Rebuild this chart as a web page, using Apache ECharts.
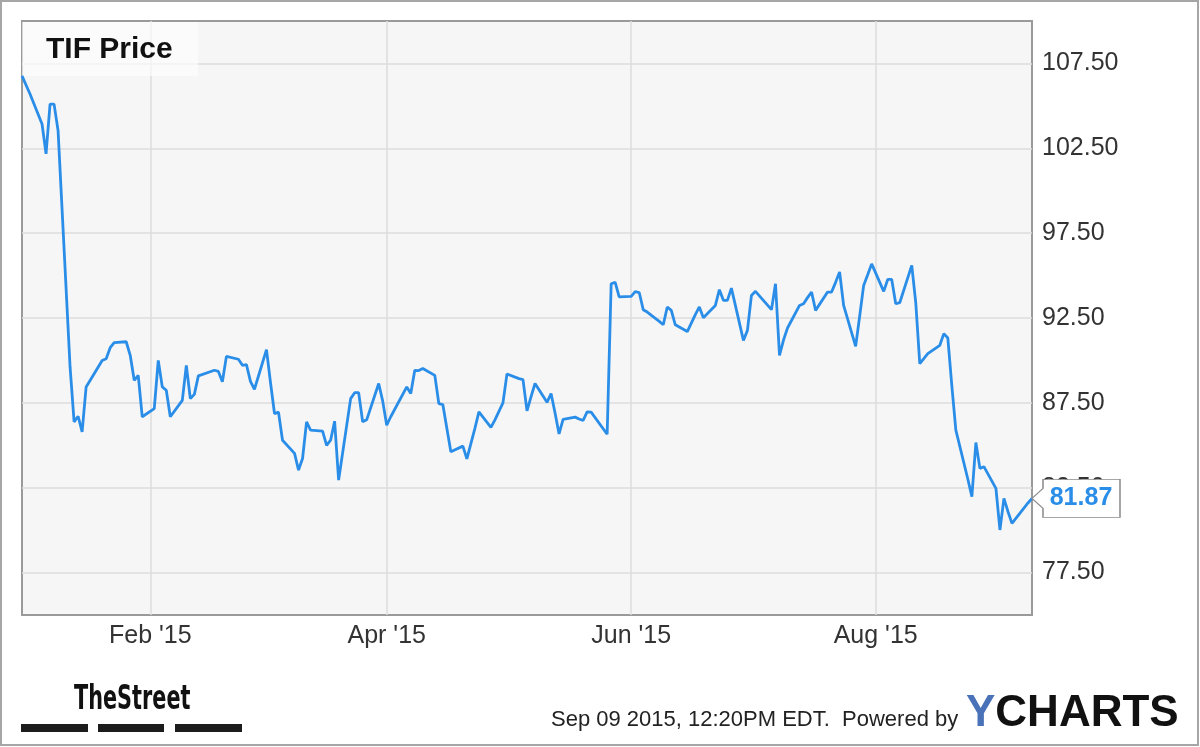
<!DOCTYPE html>
<html>
<head>
<meta charset="utf-8">
<script src="https://cdn.jsdelivr.net/npm/echarts@6/dist/echarts.min.js"></script>
<style>
html,body{margin:0;padding:0;background:#fff;}
#chart{width:1200px;height:747px;}
</style>
</head>
<body>
<div id="chart"></div>
<script>
// ---- data ----
const title = 'TIF Price';
const axisStart = '2014-12-31';
const axisEnd = '2015-09-09';
const labelMonths = ['02', '04', '06', '08'];
const monthNames = ['Jan','Feb','Mar','Apr','May','Jun','Jul','Aug','Sep','Oct','Nov','Dec'];

const dates = [
'2014-12-31','2015-01-02','2015-01-05','2015-01-06','2015-01-07','2015-01-08','2015-01-09',
'2015-01-12','2015-01-13','2015-01-14','2015-01-15','2015-01-16','2015-01-20','2015-01-21',
'2015-01-22','2015-01-23','2015-01-26','2015-01-27','2015-01-28','2015-01-29','2015-01-30',
'2015-02-02','2015-02-03','2015-02-04','2015-02-05','2015-02-06','2015-02-09','2015-02-10',
'2015-02-11','2015-02-12','2015-02-13','2015-02-17','2015-02-18','2015-02-19','2015-02-20',
'2015-02-23','2015-02-24','2015-02-25','2015-02-26','2015-02-27','2015-03-02','2015-03-03',
'2015-03-04','2015-03-05','2015-03-06','2015-03-09','2015-03-10','2015-03-11','2015-03-12',
'2015-03-13','2015-03-16','2015-03-17','2015-03-18','2015-03-19','2015-03-20','2015-03-23',
'2015-03-24','2015-03-25','2015-03-26','2015-03-27','2015-03-30','2015-03-31','2015-04-01',
'2015-04-02','2015-04-06','2015-04-07','2015-04-08','2015-04-09','2015-04-10','2015-04-13',
'2015-04-14','2015-04-15','2015-04-16','2015-04-17','2015-04-20','2015-04-21','2015-04-22',
'2015-04-23','2015-04-24','2015-04-27','2015-04-28','2015-04-29','2015-04-30','2015-05-01',
'2015-05-04','2015-05-05','2015-05-06','2015-05-07','2015-05-08','2015-05-11','2015-05-12',
'2015-05-13','2015-05-14','2015-05-15','2015-05-18','2015-05-19','2015-05-20','2015-05-21',
'2015-05-22','2015-05-26','2015-05-27','2015-05-28','2015-05-29','2015-06-01','2015-06-02',
'2015-06-03','2015-06-04','2015-06-05','2015-06-08','2015-06-09','2015-06-10','2015-06-11',
'2015-06-12','2015-06-15','2015-06-16','2015-06-17','2015-06-18','2015-06-19','2015-06-22',
'2015-06-23','2015-06-24','2015-06-25','2015-06-26','2015-06-29','2015-06-30','2015-07-01',
'2015-07-02','2015-07-06','2015-07-07','2015-07-08','2015-07-09','2015-07-10','2015-07-13',
'2015-07-14','2015-07-15','2015-07-16','2015-07-17','2015-07-20','2015-07-21','2015-07-22',
'2015-07-23','2015-07-24','2015-07-27','2015-07-28','2015-07-29','2015-07-30','2015-07-31',
'2015-08-03','2015-08-04','2015-08-05','2015-08-06','2015-08-07','2015-08-10','2015-08-11',
'2015-08-12','2015-08-13','2015-08-14','2015-08-17','2015-08-18','2015-08-19','2015-08-20',
'2015-08-21','2015-08-24','2015-08-25','2015-08-26','2015-08-27','2015-08-28','2015-08-31',
'2015-09-01','2015-09-02','2015-09-03','2015-09-04','2015-09-08','2015-09-09'
];

const prices = [
106.77,105.7,103.93,102.17,105.1,105.1,103.54,
89.6,86.38,86.71,85.79,88.44,90.0,90.1,
90.75,91.05,91.1,90.3,88.83,89.12,86.68,
87.16,90.0,88.44,88.24,86.68,87.65,89.71,
87.75,88.0,89.09,89.42,89.35,88.74,90.24,
90.07,89.71,89.75,88.77,88.3,90.64,88.7,
86.87,86.95,85.3,84.52,83.54,84.22,86.38,
85.89,85.83,85.0,85.3,86.42,82.95,87.75,
88.1,88.1,86.38,86.5,88.64,87.6,86.18,
86.68,88.44,88.05,89.42,89.4,89.52,89.12,
87.46,87.4,86.0,84.62,84.95,84.2,85.1,
86.0,86.97,86.05,86.5,87.0,87.5,89.2,
88.93,88.87,87.03,87.85,88.64,87.53,88.05,
86.9,85.67,86.53,86.66,86.55,86.46,86.97,
86.95,85.65,94.52,94.6,93.74,93.77,94.05,
94.0,92.99,92.85,92.3,92.1,93.15,92.95,
92.1,91.7,92.2,92.7,93.15,92.52,93.24,
94.17,93.54,93.54,94.26,91.18,91.77,93.83,
94.07,92.99,94.52,90.3,91.2,91.91,93.24,
93.34,93.7,94.03,92.95,94.03,94.03,94.6,
95.21,93.24,90.83,92.6,94.42,95.05,95.69,
94.07,94.77,94.77,93.34,93.4,95.6,93.4,
89.81,90.1,90.4,90.89,91.58,91.32,88.5,
85.89,83.0,81.97,85.16,83.64,83.74,82.46,
80.01,81.87,81.1,80.4,81.6,81.87
];

const yMin = 75, yMax = 110, yStep = 2.5;
const footerText = 'Sep 09 2015, 12:20PM EDT.  Powered by';

// ---- build calendar categories for the x axis ----
function buildDays(a, b) {
  const out = [];
  let t = Date.UTC(+a.slice(0,4), +a.slice(5,7)-1, +a.slice(8,10));
  const end = Date.UTC(+b.slice(0,4), +b.slice(5,7)-1, +b.slice(8,10));
  while (t <= end) {
    out.push(new Date(t).toISOString().slice(0,10));
    t += 86400000;
  }
  return out;
}
const days = buildDays(axisStart, axisEnd);
const isMark = (idx, val) => val.slice(8,10) === '01' && labelMonths.indexOf(val.slice(5,7)) >= 0;
const isLabelTick = v => Math.abs(((v - 77.5) / 5) - Math.round((v - 77.5) / 5)) < 1e-6;

const lastDate = dates[dates.length - 1];
const lastPrice = prices[prices.length - 1];
const lineColor = '#2a8ee8';

const chart = echarts.init(document.getElementById('chart'), null, {renderer: 'canvas'});
chart.setOption({
  animation: false,
  backgroundColor: '#ffffff',
  grid: {
    left: 22, right: 168, top: 21, bottom: 132,
    show: true, backgroundColor: '#f6f6f6', borderColor: '#9a9a9a', borderWidth: 2
  },
  xAxis: {
    type: 'category',
    data: days,
    boundaryGap: false,
    axisLine: {show: false},
    axisTick: {show: false},
    axisLabel: {
      interval: isMark,
      margin: 9,
      color: '#333',
      fontSize: 25,
      fontFamily: 'Liberation Sans, Arial, sans-serif',
      formatter: v => monthNames[+v.slice(5,7) - 1] + " '" + v.slice(2,4)
    },
    splitLine: {show: true, interval: isMark, lineStyle: {color: '#dcdcdc', width: 1.5}}
  },
  yAxis: {
    type: 'value',
    position: 'right',
    min: yMin, max: yMax, interval: yStep,
    axisLine: {show: false},
    axisTick: {show: false},
    axisLabel: {
      margin: 10,
      color: '#333',
      fontSize: 25,
      fontFamily: 'Liberation Sans, Arial, sans-serif',
      formatter: v => isLabelTick(v) ? v.toFixed(2) : ''
    },
    splitLine: {show: true, lineStyle: {color: ['rgba(0,0,0,0)', '#dcdcdc'], width: 1.5}}
  },
  series: [{
    type: 'line',
    data: dates.map((d, i) => [d, prices[i]]),
    showSymbol: false,
    symbol: 'none',
    lineStyle: {color: lineColor, width: 2.8},
    z: 3,
    markPoint: {
      symbol: 'path://M0 19 L11 9 L11 0 L88 0 L88 38 L11 38 L11 29 Z',
      symbolSize: [88, 38],
      symbolOffset: [44, 0],
      symbolKeepAspect: false,
      itemStyle: {color: '#ffffff', borderColor: '#8a8a8a', borderWidth: 1},
      label: {
        show: true, position: 'inside', offset: [5, 0],
        color: lineColor, fontSize: 25, fontWeight: 'bold',
        fontFamily: 'Liberation Sans, Arial, sans-serif',
        formatter: p => Number(p.value).toFixed(2)
      },
      data: [{coord: [lastDate, lastPrice], value: lastPrice}]
    }
  }],
  graphic: [
    {type: 'rect', z: 1, shape: {x: 22, y: 22, width: 176, height: 54},
     style: {fill: 'rgba(255,255,255,0.6)'}},
    {type: 'text', z: 5, x: 46, y: 50,
     style: {text: title, fill: '#111', font: 'bold 30px "Liberation Sans", Arial, sans-serif',
             textAlign: 'left', textVerticalAlign: 'middle'}},
    {type: 'rect', z: 10, shape: {x: 1, y: 1, width: 1197, height: 744},
     style: {fill: 'none', stroke: '#a6a6a6', lineWidth: 2}},
    {type: 'text', z: 5, x: 74, y: 700, scaleX: 0.68,
     style: {text: 'TheStreet', fill: '#111', font: 'bold 34px "DejaVu Sans Condensed", "Liberation Sans", sans-serif',
             textAlign: 'left', textVerticalAlign: 'middle'}},
    {type: 'rect', z: 5, shape: {x: 21, y: 724, width: 67, height: 8}, style: {fill: '#1c1c1c'}},
    {type: 'rect', z: 5, shape: {x: 98, y: 724, width: 66, height: 8}, style: {fill: '#1c1c1c'}},
    {type: 'rect', z: 5, shape: {x: 175, y: 724, width: 67, height: 8}, style: {fill: '#1c1c1c'}},
    {type: 'text', z: 5, x: 551, y: 720,
     style: {text: footerText, fill: '#222', font: '22px "Liberation Sans", Arial, sans-serif',
             textAlign: 'left', textVerticalAlign: 'middle'}},
    {type: 'text', z: 5, x: 966, y: 714,
     style: {
       text: '{y|Y}{c|CHARTS}',
       textAlign: 'left', textVerticalAlign: 'middle',
       rich: {
         y: {fill: '#4a72b8', font: 'bold 44px "Liberation Sans", Arial, sans-serif'},
         c: {fill: '#111', font: 'bold 44px "Liberation Sans", Arial, sans-serif'}
       }
     }}
  ]
});
</script>
</body>
</html>
